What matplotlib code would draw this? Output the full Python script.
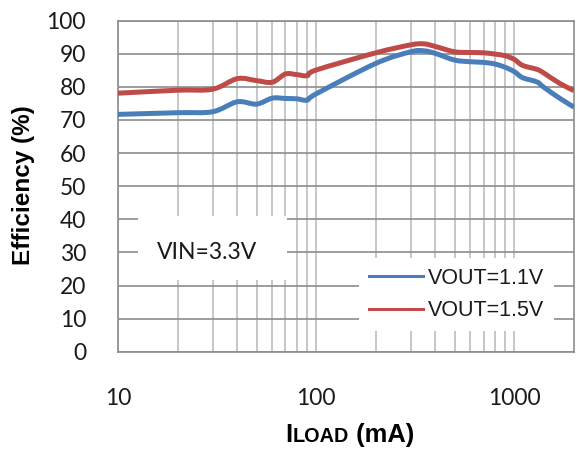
import matplotlib
matplotlib.use("Agg")
import numpy as np
import matplotlib.pyplot as plt
from matplotlib.ticker import FixedLocator, NullFormatter, FixedFormatter
from matplotlib.patches import Rectangle, PathPatch
from matplotlib.path import Path
from matplotlib.lines import Line2D
from matplotlib.offsetbox import TextArea, HPacker, AnnotationBbox

# Load current (mA) and measured efficiency (%)
load_ma = [10, 20, 30, 40, 50, 60, 70, 80, 90, 100, 200, 300, 350, 400, 500,
           600, 700, 800, 900, 1000, 1100, 1300, 1400, 1700, 2000]
eff_vout_1v1 = [71.7, 72.2, 72.5, 75.5, 74.8, 76.6, 76.5, 76.4, 76.0, 77.9, 87.1,
                90.6, 90.9, 90.1, 88.1, 87.6, 87.4, 86.9, 85.9, 84.6, 82.8,
                81.5, 80.0, 76.5, 73.9]
eff_vout_1v5 = [78.1, 79.0, 79.3, 82.5, 81.9, 81.4, 83.9, 83.7, 83.4, 85.1, 90.3,
                92.7, 93.0, 92.2, 90.6, 90.4, 90.3, 89.9, 89.4, 88.3, 86.5,
                85.3, 84.3, 81.0, 78.9]
series_labels = ["VOUT=1.1V", "VOUT=1.5V"]
series_colors = ["#4a7ebb", "#be4b48"]

y_ticks = list(range(0, 101, 10))
x_major = [10, 100, 1000]
x_major_labels = ["10", "100", "1000"]
x_minor = [20, 30, 40, 50, 60, 70, 80, 90, 200, 300, 400, 500, 600, 700, 800, 900]


def smooth_path(xs, ys):
    """Catmull-Rom style cubic Bezier through the points, built in log-x space."""
    lx = np.log10(np.asarray(xs, float))
    y = np.asarray(ys, float)
    pts = np.column_stack([lx, y])
    n = len(pts)
    verts = [pts[0]]
    codes = [Path.MOVETO]
    for i in range(n - 1):
        p0 = pts[i - 1] if i > 0 else pts[i]
        p1 = pts[i]
        p2 = pts[i + 1]
        p3 = pts[i + 2] if i + 2 < n else pts[i + 1]
        c1 = p1 + (p2 - p0) / 6.0
        c2 = p2 - (p3 - p1) / 6.0
        verts += [c1, c2, p2]
        codes += [Path.CURVE4] * 3
    verts = np.array(verts)
    verts[:, 0] = 10 ** verts[:, 0]
    return Path(verts, codes)


fig = plt.figure(figsize=(5.77, 4.5), dpi=100)
ax = fig.add_axes([118 / 577, (450 - 351.7) / 450, 456 / 577, 331 / 450])

ax.set_xscale("log")
ax.set_xlim(10, 2000)
ax.set_ylim(0, 100)

# grid
for v in x_major + x_minor:
    ax.axvline(v, color="#bdbdbd", lw=1.2, zorder=1)
for v in y_ticks:
    ax.axhline(v, color="#8c8c8c", lw=1.2, zorder=1.5)

for s in ax.spines.values():
    s.set_color("#8c8c8c")
    s.set_linewidth(1.2)

ax.xaxis.set_major_locator(FixedLocator(x_major))
ax.xaxis.set_major_formatter(FixedFormatter(x_major_labels))
ax.xaxis.set_minor_locator(FixedLocator(x_minor))
ax.xaxis.set_minor_formatter(NullFormatter())
ax.yaxis.set_major_locator(FixedLocator(y_ticks))
ax.tick_params(which="both", length=0)
ax.tick_params(axis="y", pad=23, labelsize=16.5)
ax.tick_params(axis="x", pad=26, labelsize=16.5)
for lab in ax.get_xticklabels() + ax.get_yticklabels():
    lab.set_fontfamily("Lato")
    lab.set_color("#1a1a1a")

# smoothed efficiency curves
handles = []
for ys, lab, col in zip([eff_vout_1v1, eff_vout_1v5], series_labels, series_colors):
    patch = PathPatch(smooth_path(load_ma, ys), transform=ax.transData,
                      facecolor="none", edgecolor=col, lw=3.6, zorder=3,
                      joinstyle="round", capstyle="butt")
    ax.add_patch(patch)
    handles.append(Line2D([], [], color=col, lw=2.2, label=lab))

# annotation box
ax.add_patch(Rectangle((0.044, 0.217), 0.327, 0.193, transform=ax.transAxes,
                       facecolor="white", edgecolor="none", zorder=2))
ax.text(0.195, 0.301, "VIN=3.3V", transform=ax.transAxes, ha="center", va="center",
        fontsize=16.5, fontfamily="Lato", color="#1a1a1a", zorder=4)

leg = ax.legend(handles=handles, loc="center", bbox_to_anchor=(0.743, 0.173),
                frameon=True, fancybox=False, framealpha=1, edgecolor="none",
                facecolor="white", prop={"family": "Liberation Sans", "size": 15.5},
                handlelength=2.5, handletextpad=0.25, labelspacing=0.55,
                borderpad=0.45, borderaxespad=0)
for t in leg.get_texts():
    t.set_color("#1a1a1a")

# axis titles
fig.text(24 / 577, 1 - 185 / 450, "Efficiency (%)", rotation=90, ha="center",
         va="center", fontsize=17.5, fontweight="bold", fontfamily="Liberation Sans")

parts = [TextArea("I", textprops=dict(size=18.4, weight="bold", family="Liberation Sans")),
         TextArea("LOAD", textprops=dict(size=14.3, weight="bold", family="Liberation Sans")),
         TextArea(" (mA)", textprops=dict(size=18.4, weight="bold", family="Liberation Sans"))]
pack = HPacker(children=parts, align="baseline", pad=0, sep=0)
ab = AnnotationBbox(pack, (349.5 / 577, 1 - 447 / 450), xycoords="figure fraction",
                    box_alignment=(0.5, 0.0), frameon=False, pad=0)
fig.add_artist(ab)

fig.savefig("out.png", dpi=100)
